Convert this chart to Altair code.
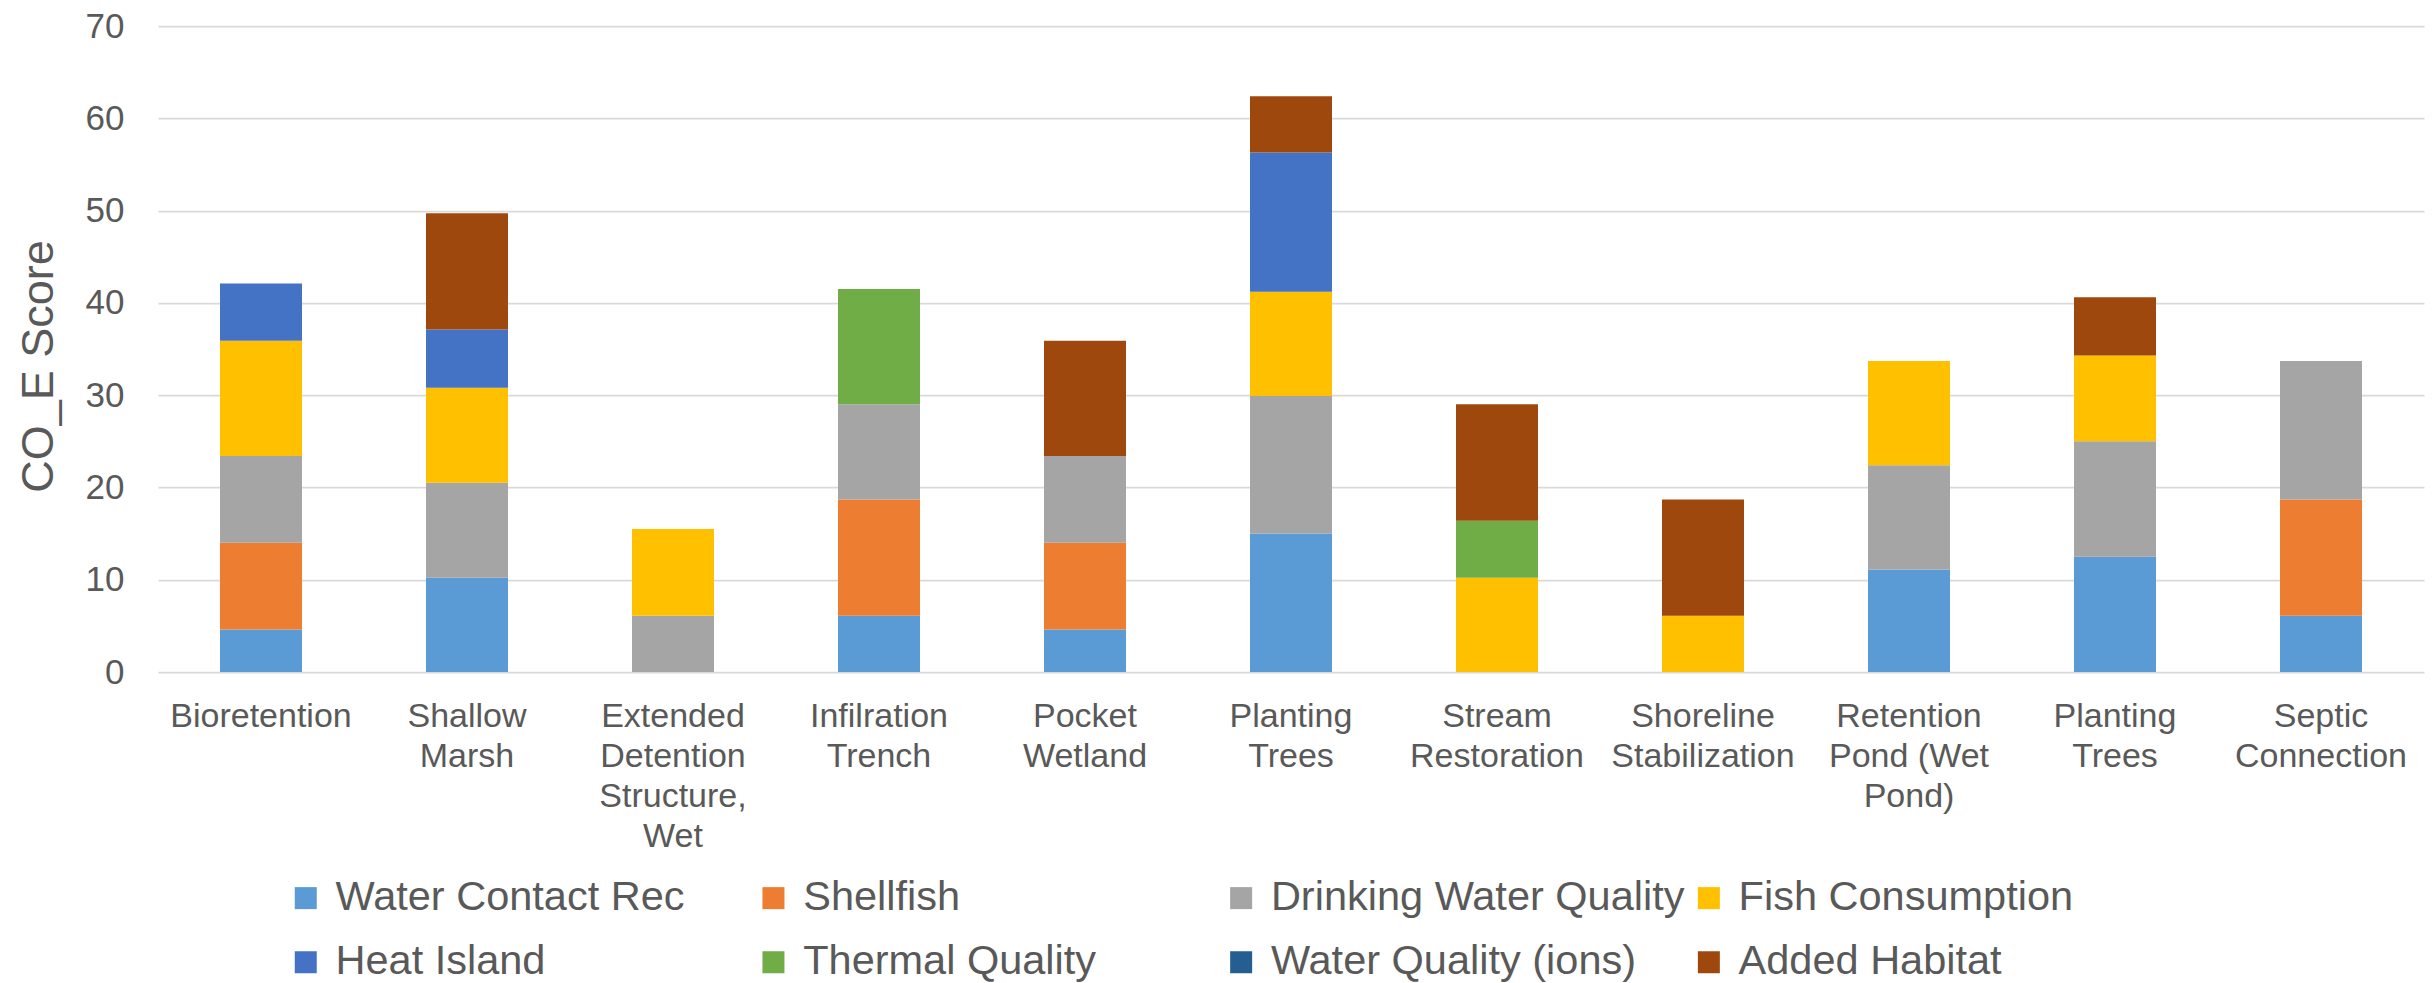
import json
import altair as alt
import pandas as pd

categories = [
    "Bioretention", "Shallow\nMarsh", "Extended\nDetention\nStructure,\nWet",
    "Infilration\nTrench", "Pocket\nWetland", "Planting\nTrees",
    "Stream\nRestoration", "Shoreline\nStabilization", "Retention\nPond (Wet\nPond)",
    "Planting\nTrees", "Septic\nConnection",
]

series = ["Water Contact Rec", "Shellfish", "Drinking Water Quality", "Fish Consumption",
          "Heat Island", "Thermal Quality", "Water Quality (ions)", "Added Habitat"]
colors = ["#5B9BD5", "#ED7D31", "#A5A5A5", "#FFC000", "#4472C4", "#70AD47", "#255E91", "#9E480E"]

water_contact_rec = [4.6, 10.2, 0, 6.1, 4.6, 15.0, 0, 0, 11.1, 12.5, 6.1]
shellfish = [9.4, 0, 0, 12.6, 9.4, 0, 0, 0, 0, 0, 12.6]
drinking_water_quality = [9.4, 10.3, 6.1, 10.3, 9.4, 14.9, 0, 0, 11.3, 12.5, 15.0]
fish_consumption = [12.5, 10.3, 9.4, 0, 0, 11.3, 10.2, 6.1, 11.3, 9.3, 0]
heat_island = [6.2, 6.3, 0, 0, 0, 15.1, 0, 0, 0, 0, 0]
thermal_quality = [0, 0, 0, 12.5, 0, 0, 6.2, 0, 0, 0, 0]
water_quality_ions = [0, 0, 0, 0, 0, 0, 0, 0, 0, 0, 0]
added_habitat = [0, 12.6, 0, 0, 12.5, 6.1, 12.6, 12.6, 0, 6.3, 0]

values = [water_contact_rec, shellfish, drinking_water_quality, fish_consumption,
          heat_island, thermal_quality, water_quality_ions, added_habitat]

rows = []
for s_i, (name, vals) in enumerate(zip(series, values)):
    for c_i, v in enumerate(vals):
        rows.append({"idx": c_i, "series": name, "order": s_i, "value": v})
df = pd.DataFrame(rows)

label_lines = [c.split("\n") for c in categories]
label_expr = json.dumps(label_lines) + "[datum.value]"

TXT = "#595959"
FONT = "Liberation Sans"

chart = alt.Chart(df).mark_bar().encode(
    x=alt.X("idx:O",
            scale=alt.Scale(paddingInner=0.602, paddingOuter=0.301),
            axis=alt.Axis(title=None, labelExpr=label_expr, labelAngle=0,
                          labelFontSize=34, labelLineHeight=40, labelColor=TXT,
                          labelFont=FONT, labelPadding=27, labelBaseline="top",
                          labelLimit=1000,
                          ticks=False, domain=False, labelOverlap=False,
                          labelBound=False, grid=False)),
    y=alt.Y("value:Q", stack="zero",
            scale=alt.Scale(domain=[0, 70], nice=False),
            axis=alt.Axis(values=list(range(0, 71, 10)), title="CO_E Score",
                          labelFontSize=35, labelColor=TXT, labelFont=FONT,
                          labelPadding=34, ticks=False, domain=False,
                          grid=True, gridColor="#D9D9D9", gridWidth=1.75,
                          titleFontSize=45, titleFont=FONT, titleColor=TXT,
                          titleFontWeight="normal", titleX=-106, titleY=340,
                          titleBaseline="alphabetic", titleAlign="center")),
    color=alt.Color("series:N",
                    scale=alt.Scale(domain=series, range=colors),
                    legend=alt.Legend(title=None, orient="none", legendX=127, legendY=851,
                                      columns=4, direction="horizontal", gridAlign="all",
                                      symbolType="square", symbolSize=484,
                                      symbolStrokeWidth=0, symbolOpacity=1,
                                      labelFontSize=41.5, labelColor=TXT, labelFont=FONT,
                                      labelLimit=800, labelOffset=9,
                                      rowPadding=21.5, columnPadding=2.7, padding=0)),
    order=alt.Order("order:Q", sort="ascending"),
).properties(
    width=2266, height=646,
    padding={"left": 158, "top": 26, "right": 8, "bottom": 311},
    autosize=alt.AutoSizeParams(type="none"),
    background="white",
).configure_view(stroke=None)

chart.save("out.html", embed_options={"renderer": "svg", "actions": False})
